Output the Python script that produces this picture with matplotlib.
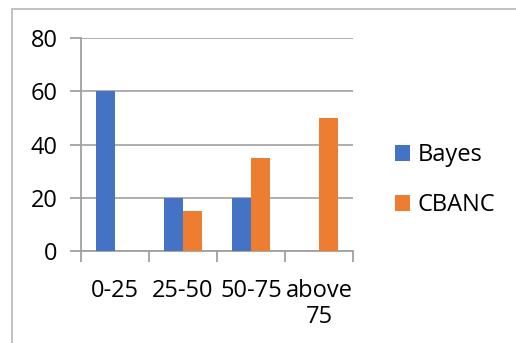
import matplotlib
matplotlib.use("Agg")
import matplotlib.pyplot as plt
from matplotlib.patches import Rectangle
import numpy as np

categories = ["0-25", "25-50", "50-75", "above\n75"]
bayes = [60, 20, 20, 0]
cbanc = [0, 15, 35, 50]
yticks = [0, 20, 40, 60, 80]

plt.rcParams['font.family'] = ['Open Sans', 'DejaVu Sans']

fig = plt.figure(figsize=(5.16, 3.43), dpi=100)
fig.patches.append(Rectangle((12/516, -0.1), 1.2, (343-9)/343 + 0.1, transform=fig.transFigure,
                             fill=False, edgecolor='#b8b8b8', linewidth=1.2))
ax = fig.add_axes([81/516, (343-251)/343, (353-81)/516, (251-38)/343])

x = np.arange(len(categories))
w = 19/68
ax.bar(x - w/2, bayes, width=w, color='#4472C4', label='Bayes', zorder=3)
ax.bar(x + w/2, cbanc, width=w, color='#ED7D31', label='CBANC', zorder=3)

ax.set_xlim(-0.5, len(categories) - 0.5)
ax.set_ylim(0, 80)
ax.set_yticks(yticks)
ax.set_yticklabels([str(t) for t in yticks], fontsize=17)
ax.set_xticks(x)
ax.set_xticklabels(categories, fontsize=17, linespacing=1.1)
ax.set_xticks(np.arange(len(categories) + 1) - 0.5, minor=True)
ax.tick_params(axis='x', which='major', length=0, pad=20)
ax.tick_params(axis='x', which='minor', length=8, width=1.3, color='#a0a0a0', direction='out')
ax.tick_params(axis='y', length=8, width=1.3, color='#a0a0a0', pad=9)

ax.yaxis.grid(True, color='#a8a8a8', linewidth=1.3, zorder=0)
for s in ['top', 'right']:
    ax.spines[s].set_visible(False)
for s in ['left', 'bottom']:
    ax.spines[s].set_color('#a0a0a0')
    ax.spines[s].set_linewidth(1.3)
ax.set_axisbelow(True)

fig.legend(loc='center left', bbox_to_anchor=(395/516, (343-180)/343), frameon=False,
           borderpad=0, borderaxespad=0,
           fontsize=17, handlelength=0.65, handleheight=0.65, handletextpad=0.3, labelspacing=1.1)

fig.savefig('out.png', dpi=100)
